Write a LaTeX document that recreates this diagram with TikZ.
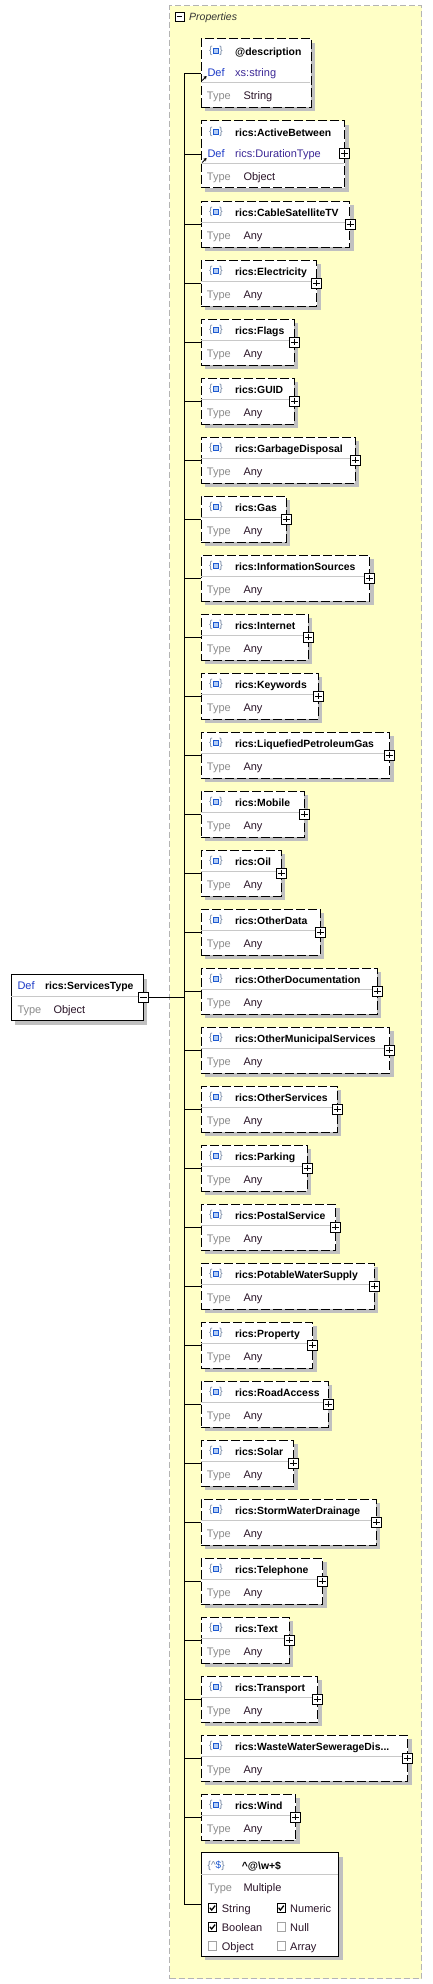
\documentclass[tikz,border=0pt]{standalone}
\usepackage{fontspec}
\setmainfont{Liberation Sans}
\usetikzlibrary{shadows,arrows.meta}
\definecolor{contfill}{HTML}{FFFFC6}
\definecolor{contdraw}{HTML}{B4B4B4}
\definecolor{defblue}{HTML}{1E3CC8}
\definecolor{linkpurple}{HTML}{3C2896}
\definecolor{typegray}{HTML}{8C8C8C}
\definecolor{valdark}{HTML}{2A1428}
\definecolor{sepgray}{HTML}{C8C8C8}
\definecolor{shadowgray}{HTML}{C0C0C0}
\definecolor{iconblue}{HTML}{1E5AD2}
\definecolor{iconfill}{HTML}{B4CDF5}
\definecolor{bracegray}{HTML}{6E82A0}
\newcommand\ddd{...}
\newcommand\propicon[2]{%
  \node[anchor=center, inner sep=0pt, text=bracegray, font=\fontsize{10pt}{12pt}\selectfont] at ({#1+10},{#2}) {\{};
  \draw[draw=iconblue, fill=iconfill, line width=1.1pt] ({#1+12.6},{#2-2.4}) rectangle ({#1+17.6},{#2+2.2});
  \node[anchor=center, inner sep=0pt, text=bracegray, font=\fontsize{10pt}{12pt}\selectfont] at ({#1+20.4},{#2}) {\}};
}
\begin{document}
\begin{tikzpicture}[x=1pt,y=-1pt,
  boxbase/.style={draw=black, fill=white, line width=1pt, inner sep=0pt, anchor=north west,
     drop shadow={shadow xshift=4pt, shadow yshift=-4pt, fill=shadowgray, opacity=1}},
  dbox/.style={boxbase, dash pattern=on 9pt off 3pt},
  sbox/.style={boxbase},
  sepline/.style={draw=sepgray, line width=1pt},
  conn/.style={draw=black, line width=1pt},
  txtb/.style={anchor=base west, inner sep=0pt},
  nm/.style={txtb, font=\fontsize{10.4pt}{12pt}\selectfont\bfseries, text=black},
  tl/.style={txtb, font=\fontsize{11pt}{13pt}\selectfont, text=typegray},
  vl/.style={txtb, font=\fontsize{11pt}{13pt}\selectfont, text=valdark},
  df/.style={txtb, font=\fontsize{11pt}{13pt}\selectfont, text=defblue},
  lk/.style={txtb, font=\fontsize{11pt}{13pt}\selectfont, text=linkpurple},
  pm/.style={draw=black, fill=white, line width=0.8pt, minimum size=10pt, inner sep=0pt},
  cb/.style={draw=black, fill=white, line width=0.8pt, minimum size=8.5pt, inner sep=0pt},
  cbu/.style={draw=typegray!80, fill=white, line width=0.8pt, minimum size=8.5pt, inner sep=0pt},
  chk/.style={draw=black, line width=1.3pt},
  linkarrow/.style={draw=black, line width=1pt, -{Stealth[length=3pt,width=3.5pt]}}
]
\useasboundingbox (0,0) rectangle (432,1984);
\fill[white] (0,0) rectangle (432,1984);

% container
\node[draw=contdraw, fill=contfill, line width=1pt, dash pattern=on 6pt off 3pt, inner sep=0pt,
      anchor=north west, minimum width=252pt, minimum height=1973pt] (props) at (169,5) {};
\node[pm, minimum size=9pt] (hm) at (179.5,16.5) {};
\draw[line width=0.8pt] ([xshift=2pt]hm.west) -- ([xshift=-2pt]hm.east);
\node[txtb, font=\fontsize{10.5pt}{12pt}\selectfont\itshape, text=black!80] (ptitle) at (189,20) {Properties};

\coordinate (tk) at (184.5,0);

% @description
\node[dbox, minimum width=110pt, minimum height=68.4pt] (d) at (200.7,38.3) {};
\draw[sepline] (201.2,82) -- (310.2,82);
\propicon{200.7}{51}
\node[nm] at (235,55.3) {@description};
\node[df] at (207.3,76) {Def};
\node[lk] at (235,76) {xs:string};
\node[tl] at (206.7,99) {Type};
\node[vl] at (243.3,99) {String};
\draw[linkarrow] (202.3,80.5) -- (206.6,76);

% ActiveBetween
\node[dbox, minimum width=143.3pt, minimum height=67.3pt] (ab) at (200.7,120) {};
\draw[sepline] (201.2,163.3) -- (343.5,163.3);
\propicon{200.7}{132.3}
\node[nm] at (235,136.7) {rics:ActiveBetween};
\node[df] at (207.3,157.7) {Def};
\node[lk] at (235,157.7) {rics:DurationType};
\node[tl] at (206.7,180.7) {Type};
\node[vl] at (243.3,180.7) {Object};
\draw[linkarrow] (202.3,162.5) -- (206.6,158);
\node[pm] (pab) at (344.8,153.7) {};
\draw[line width=0.8pt] ([xshift=2pt]pab.west) -- ([xshift=-2pt]pab.east) ([yshift=-2pt]pab.north) -- ([yshift=2pt]pab.south);

% Any boxes
\foreach \nm/\r [count=\k from 0] in {CableSatelliteTV/349.3, Electricity/316, Flags/293.7, GUID/293.7,
  GarbageDisposal/354.7, Gas/285.7, InformationSources/369, Internet/307.7, Keywords/317.7,
  LiquefiedPetroleumGas/389, Mobile/303.7, Oil/280.7, OtherData/319.7, OtherDocumentation/376.7,
  OtherMunicipalServices/389, OtherServices/336.7, Parking/306.7, PostalService/335,
  PotableWaterSupply/373.7, Property/312, RoadAccess/327.7, Solar/293, StormWaterDrainage/375.7,
  Telephone/322, Text/288.7, Transport/317, WasteWaterSewerageDis\ddd/407, Wind/295}{
  \pgfmathsetmacro\t{200.7+59*\k}
  \pgfmathsetmacro\w{\r-200.7}
  \node[dbox, minimum width=\w pt, minimum height=46pt] (a\k) at (200.7,\t) {};
  \draw[sepline] (201.2,{\t+21.7}) -- ({\r-0.5},{\t+21.7});
  \propicon{200.7}{\t+11.3}
  \node[nm] at (235,{\t+15.3}) {rics:\nm};
  \node[tl] at (206.7,{\t+38.6}) {Type};
  \node[vl] at (243.3,{\t+38.6}) {Any};
  \node[pm] (p\k) at ({\r+0.8},{\t+23.3}) {};
  \draw[line width=0.8pt] ([xshift=2pt]p\k.west) -- ([xshift=-2pt]p\k.east) ([yshift=-2pt]p\k.north) -- ([yshift=2pt]p\k.south);
  \draw[conn] (tk |- a\k.west) -- (a\k.west);
}

% pattern box
\node[sbox, minimum width=137.6pt, minimum height=103.4pt] (pat) at (200.7,1852.3) {};
\draw[sepline] (201.2,1874.3) -- (337.8,1874.3);
\node[anchor=base west, inner sep=0pt, font=\fontsize{10pt}{12pt}\selectfont] (picon) at (207.5,1868.5)
   {\textcolor{bracegray}{\{\textasciicircum}\textcolor{iconblue}{\$}\textcolor{bracegray}{\}}};
\node[nm] at (241.7,1869) {\textasciicircum @\textbackslash w+\$};
\node[tl] at (208,1891) {Type};
\node[vl] at (243.3,1891) {Multiple};
% checkboxes
\node[cb] (c1) at (212.5,1908) {};
\node[cb] (c2) at (281.2,1908) {};
\node[cb] (c3) at (212.5,1927) {};
\node[cbu] (c4) at (281.2,1927) {};
\node[cbu] (c5) at (212.5,1946) {};
\node[cbu] (c6) at (281.2,1946) {};
\foreach \c in {c1,c2,c3}{
  \draw[chk] ([shift={(-2.6pt,0.2pt)}]\c.center) -- ([shift={(-0.8pt,-2pt)}]\c.center) -- ([shift={(2.6pt,2.4pt)}]\c.center);
}
\node[vl] at (221.7,1912) {String};
\node[vl] at (290,1912) {Numeric};
\node[vl] at (221.7,1931) {Boolean};
\node[vl] at (290,1931) {Null};
\node[vl] at (221.7,1950) {Object};
\node[vl] at (290,1950) {Array};

% trunk
\draw[conn] (tk |- d.west) -- (tk |- pat.west);
\draw[conn] (tk |- d.west) -- (d.west);
\draw[conn] (tk |- ab.west) -- (ab.west);
\draw[conn] (tk |- pat.west) -- (pat.west);

% ServicesType
\node[sbox, minimum width=132pt, minimum height=46pt] (st) at (10.7,974.3) {};
\draw[sepline] (11.2,996.7) -- (142.2,996.7);
\node[df] at (17.3,989.7) {Def};
\node[nm] at (45,989.7) {rics:ServicesType};
\node[tl] at (17.3,1013.3) {Type};
\node[vl] at (53.3,1013.3) {Object};
\node[pm] (mn) at (143.5,997.4) {};
\draw[line width=0.8pt] ([xshift=2pt]mn.west) -- ([xshift=-2pt]mn.east);
\draw[conn] (mn.east) -- (tk |- mn.east);
\end{tikzpicture}
\end{document}
